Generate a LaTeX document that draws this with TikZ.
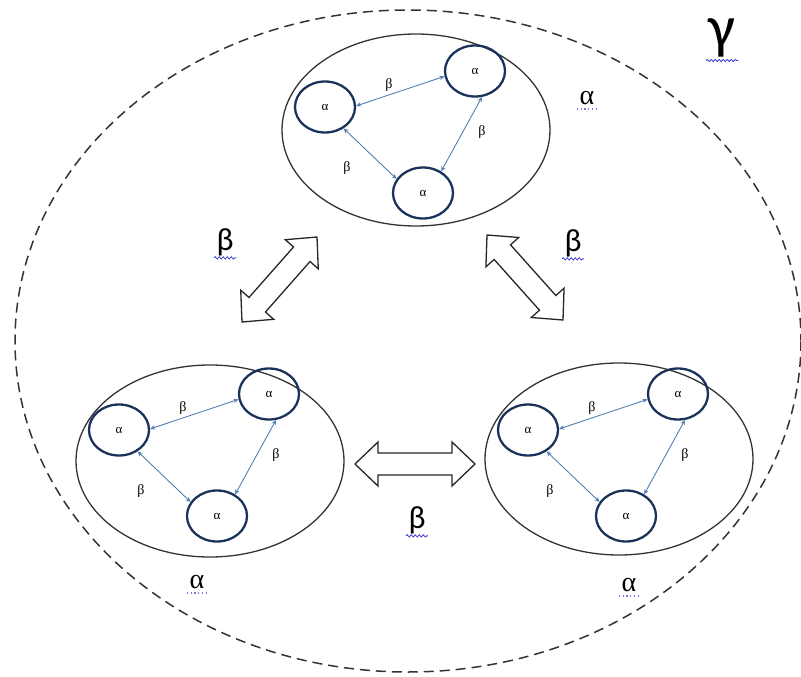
\documentclass[tikz,border=0pt]{standalone}
\usepackage{fontspec}
\setmainfont{Liberation Serif}
\newfontfamily\grserif{Liberation Serif}
\newfontfamily\grsans{Carlito}
\usetikzlibrary{shapes.geometric,arrows.meta,calc,decorations.pathmorphing}

\definecolor{ringblue}{HTML}{1B335A}
\definecolor{linkblue}{HTML}{5280B4}
\definecolor{squiggle}{HTML}{3A3AD8}

\tikzset{
  outerring/.style={draw=black!80, line width=1.5pt, dash pattern=on 10pt off 6pt},
  clusterbox/.style={draw=black!80, line width=1.3pt, ellipse, inner sep=0pt,
    minimum width=268pt, minimum height=192pt},
  member/.style={draw=ringblue, line width=2.3pt, ellipse, inner sep=0pt,
    minimum width=60pt, minimum height=51pt,
    font=\grserif\fontsize{13}{15}\selectfont},
  link/.style={draw=linkblue, line width=0.9pt,
    {Stealth[length=5pt,width=4.5pt]}-{Stealth[length=5pt,width=4.5pt]}},
  minor/.style={inner sep=0pt, font=\grserif\fontsize{14}{16}\selectfont},
  biglabel/.style={inner sep=0pt, font=\grsans\fontsize{32}{36}\selectfont},
  levellabel/.style={inner sep=0pt, font=\grserif\fontsize{28}{30}\selectfont},
  hollow/.style={draw=black!85, line width=1.3pt, line join=miter, fill=white},
  wavy/.style={draw=squiggle, line width=0.8pt,
    decorate, decoration={snake, amplitude=1.1pt, segment length=4pt}},
  dots/.style={draw=squiggle!70, line width=1.2pt, dash pattern=on 1.2pt off 2.5pt},
  % a group of three members; the argument shifts the enclosing ellipse vertically
  pics/cluster/.default=0,
  pics/cluster/.style={code={
    \node[clusterbox] (-box) at (0,#1) {};
    \node[member] (-a) at (-91,-29) {α};
    \node[member] (-b) at (59,-65) {α};
    \node[member] (-c) at (7,57) {α};
    \draw[link] (-a.2) -- (-b.190);
    \draw[link] (-a.-49) -- (-c.152);
    \draw[link] (-b.-75) -- (-c.50);
    \node[minor] (-lab) at (-27,-51) {β};
    \node[minor] (-lac) at (-69,32) {β};
    \node[minor] (-lbc) at (66,-4) {β};
  }}
}

% hollow double-headed block arrow between two tips
\newcommand\blockarrow[2]{%
  \draw[hollow] (#1)
    -- ($(#1)!23pt!(#2)!22pt!90:(#2)$)
    -- ($(#1)!23pt!(#2)!11pt!90:(#2)$)
    -- ($(#2)!23pt!(#1)!11pt!-90:(#1)$)
    -- ($(#2)!23pt!(#1)!22pt!-90:(#1)$)
    -- (#2)
    -- ($(#2)!23pt!(#1)!22pt!90:(#1)$)
    -- ($(#2)!23pt!(#1)!11pt!90:(#1)$)
    -- ($(#1)!23pt!(#2)!11pt!-90:(#2)$)
    -- ($(#1)!23pt!(#2)!22pt!-90:(#2)$)
    -- cycle;}

\begin{document}
\begin{tikzpicture}[x=1pt,y=-1pt]
  \useasboundingbox (0,0) rectangle (801,677);

  % whole system
  \draw[outerring] (408,341) ellipse [x radius=393, y radius=331];
  \node[inner sep=0pt, font=\grsans\fontsize{60}{64}\selectfont] (gamma) at (722,38) {γ};
  \draw[wavy] ([xshift=-16pt,yshift=-3pt]gamma.south) -- ([xshift=16pt,yshift=-3pt]gamma.south);

  % the three clusters
  \pic (top) at (416,136) {cluster=-6};
  \pic (left) at (210,459) {cluster=2};
  \pic (right) at (619,459) {cluster};

  % cluster level labels
  \node[levellabel] (atop) at (587,98) {α};
  \node[levellabel] (aleft) at (197,582) {α};
  \node[levellabel] (aright) at (629,585) {α};
  \foreach \n in {atop,aleft,aright}
    \draw[dots] ([xshift=-10pt,yshift=-4pt]\n.south) -- ([xshift=10pt,yshift=-4pt]\n.south);

  % exchanges between clusters
  \coordinate (ulA) at (242,322);
  \coordinate (ulB) at (317,237);
  \coordinate (urA) at (487,235);
  \coordinate (urB) at (563,320);
  \coordinate (hA) at (355,464);
  \coordinate (hB) at (475,464);
  \blockarrow{ulA}{ulB}
  \blockarrow{urA}{urB}
  \blockarrow{hA}{hB}

  \node[biglabel] (bul) at (225,242) {β};
  \node[biglabel] (bur) at (573,243) {β};
  \node[biglabel] (bbt) at (417,520) {β};
  \foreach \n in {bul,bur,bbt}
    \draw[wavy] ([xshift=-11pt,yshift=-2pt]\n.south) -- ([xshift=11pt,yshift=-2pt]\n.south);
\end{tikzpicture}
\end{document}
